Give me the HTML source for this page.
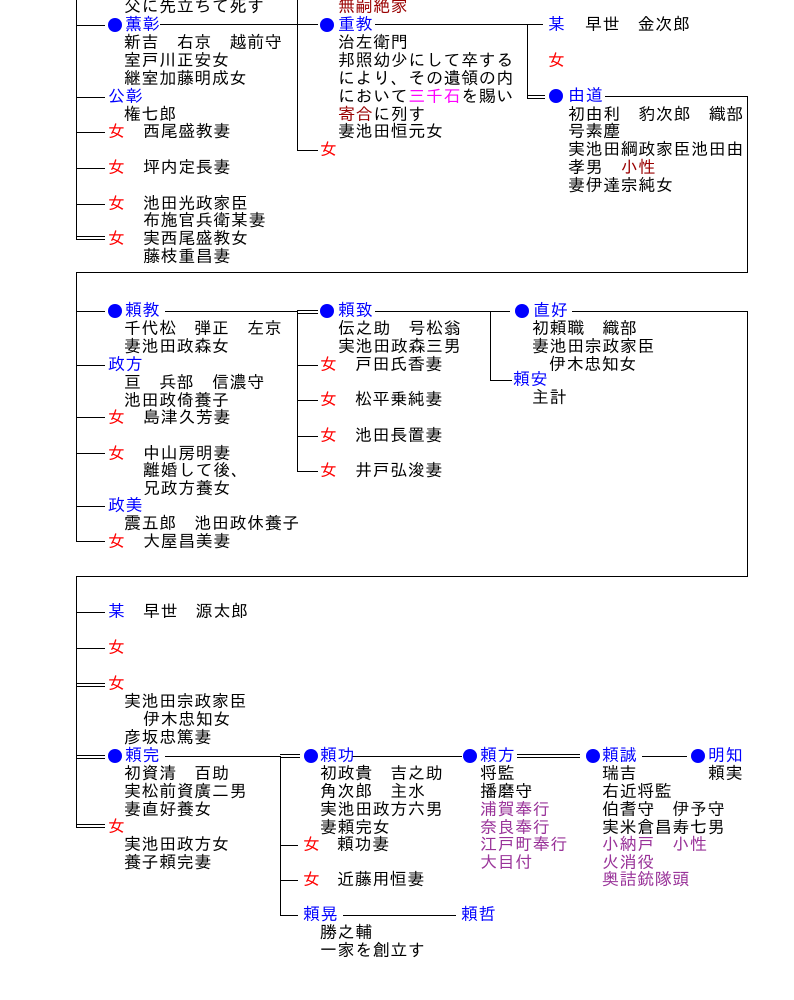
<!DOCTYPE html>
<html><head><meta charset="utf-8"><style>
body{margin:0;width:794px;height:1000px;background:#fff;position:relative;overflow:hidden;font-family:"IPAGothic","Noto Sans CJK JP",sans-serif;}
.t{position:absolute;font-size:17px;line-height:18px;letter-spacing:0.6px;white-space:nowrap;color:#000;}
.b{color:#0000ff}.r{color:#ff0000}.m{color:#990000}.p{color:#993399}.g{color:#ff00ff}
svg{position:absolute;left:0;top:0}
</style></head><body>
<svg width="794" height="1000" stroke="#000" stroke-width="1" fill="none" shape-rendering="crispEdges">
<path d="M76.5 0V239M76 25.5H105M76 97.5H105M76 132.5H105M76 168.5H105M76 204.5H105M76 236.5H105M76 239.5H105"/>
<path d="M160 24.5H318M375 24.5H543M297.5 0V150M297 150.5H318M527.5 24V98M527 95.5H545M527 98.5H545M605 96.5H747.5V272.5H76.5V541"/>
<path d="M76 311.5H105M76 365.5H105M76 417.5H105M76 453.5H105M76 506.5H105M76 541.5H105"/>
<path d="M165 311.5H297M297 310.5H318M297 313.5H318M297.5 310V471M297 365.5H318M297 400.5H318M297 436.5H318M297 471.5H318"/>
<path d="M375 311.5H510M490.5 311V380M490 380.5H512M572 311.5H747.5V576.5H76.5V827"/>
<path d="M76 612.5H105M76 648.5H105M76 683.5H105M76 686.5H105M76 755.5H105M76 758.5H105M76 824.5H105M76 827.5H105"/>
<path d="M165 756.5H280.5V915M280 754.5H300M280 757.5H300M280 845.5H298M280 880.5H298M280 915.5H298M343 915.5H456"/>
<path d="M352 756.5H462M517 754.5H580M517 757.5H580M642 756.5H687"/>
</svg>
<svg width="794" height="1000" fill="#0000ff">
<circle cx="115" cy="25" r="7"/><circle cx="327" cy="25" r="7"/><circle cx="556" cy="96" r="7"/>
<circle cx="115" cy="311" r="7"/><circle cx="327" cy="311" r="7"/><circle cx="522" cy="311" r="7"/>
<circle cx="115" cy="756" r="7"/><circle cx="311" cy="756" r="7"/><circle cx="470" cy="756" r="7"/><circle cx="593" cy="756" r="7"/><circle cx="698" cy="756" r="7"/>
</svg>

<div class="t" style="left:124px;top:-2px">父に先立ちて死す</div>
<div class="t b" style="left:125px;top:16px">薫彰</div>
<div class="t" style="left:124px;top:34px">新吉　右京　越前守</div>
<div class="t" style="left:124px;top:52px">室戸川正安女</div>
<div class="t" style="left:124px;top:70px">継室加藤明成女</div>
<div class="t b" style="left:108px;top:88px">公彰</div>
<div class="t" style="left:124px;top:106px">権七郎</div>
<div class="t r" style="left:108px;top:123px">女</div><div class="t" style="left:143px;top:123px">西尾盛教妻</div>
<div class="t r" style="left:108px;top:159px">女</div><div class="t" style="left:143px;top:159px">坪内定長妻</div>
<div class="t r" style="left:108px;top:195px">女</div><div class="t" style="left:143px;top:195px">池田光政家臣</div>
<div class="t" style="left:143px;top:212px">布施官兵衛某妻</div>
<div class="t r" style="left:108px;top:230px">女</div><div class="t" style="left:143px;top:230px">実西尾盛教女</div>
<div class="t" style="left:143px;top:248px">藤枝重昌妻</div>

<div class="t m" style="left:338px;top:-2px">無嗣絶家</div>
<div class="t b" style="left:338px;top:16px">重教</div>
<div class="t" style="left:338px;top:34px">治左衛門</div>
<div class="t" style="left:338px;top:52px">邦照幼少にして卒する</div>
<div class="t" style="left:338px;top:70px">により、その遺領の内</div>
<div class="t" style="left:338px;top:88px">において<span class="g">三千石</span>を賜い</div>
<div class="t" style="left:338px;top:106px"><span class="m">寄合</span>に列す</div>
<div class="t" style="left:338px;top:123px">妻池田恒元女</div>
<div class="t r" style="left:320px;top:141px">女</div>

<div class="t b" style="left:548px;top:16px">某</div><div class="t" style="left:585px;top:16px">早世　金次郎</div>
<div class="t r" style="left:548px;top:52px">女</div>
<div class="t b" style="left:568px;top:87px">由道</div>
<div class="t" style="left:568px;top:106px">初由利　豹次郎　織部</div>
<div class="t" style="left:568px;top:123px">号素塵</div>
<div class="t" style="left:568px;top:141px">実池田綱政家臣池田由</div>
<div class="t" style="left:568px;top:159px">孝男　<span class="m">小性</span></div>
<div class="t" style="left:568px;top:177px">妻伊達宗純女</div>

<div class="t b" style="left:125px;top:302px">頼教</div>
<div class="t" style="left:124px;top:320px">千代松　弾正　左京</div>
<div class="t" style="left:124px;top:338px">妻池田政森女</div>
<div class="t b" style="left:108px;top:356px">政方</div>
<div class="t" style="left:124px;top:374px">亘　兵部　信濃守</div>
<div class="t" style="left:124px;top:392px">池田政倚養子</div>
<div class="t r" style="left:108px;top:409px">女</div><div class="t" style="left:143px;top:409px">島津久芳妻</div>
<div class="t r" style="left:108px;top:445px">女</div><div class="t" style="left:143px;top:445px">中山房明妻</div>
<div class="t" style="left:143px;top:462px">離婚して後、</div>
<div class="t" style="left:143px;top:480px">兄政方養女</div>
<div class="t b" style="left:108px;top:497px">政美</div>
<div class="t" style="left:124px;top:515px">震五郎　池田政休養子</div>
<div class="t r" style="left:108px;top:533px">女</div><div class="t" style="left:143px;top:533px">大屋昌美妻</div>

<div class="t b" style="left:338px;top:302px">頼致</div>
<div class="t" style="left:338px;top:320px">伝之助　号松翁</div>
<div class="t" style="left:338px;top:338px">実池田政森三男</div>
<div class="t r" style="left:320px;top:356px">女</div><div class="t" style="left:355px;top:356px">戸田氏香妻</div>
<div class="t r" style="left:320px;top:391px">女</div><div class="t" style="left:355px;top:391px">松平乗純妻</div>
<div class="t r" style="left:320px;top:427px">女</div><div class="t" style="left:355px;top:427px">池田長置妻</div>
<div class="t r" style="left:320px;top:462px">女</div><div class="t" style="left:355px;top:462px">井戸弘浚妻</div>

<div class="t b" style="left:533px;top:302px">直好</div>
<div class="t" style="left:532px;top:320px">初頼職　織部</div>
<div class="t" style="left:532px;top:338px">妻池田宗政家臣</div>
<div class="t" style="left:549px;top:356px">伊木忠知女</div>
<div class="t b" style="left:513px;top:371px">頼安</div>
<div class="t" style="left:532px;top:389px">主計</div>

<div class="t b" style="left:108px;top:603px">某</div><div class="t" style="left:143px;top:603px">早世　源太郎</div>
<div class="t r" style="left:108px;top:639px">女</div>
<div class="t r" style="left:108px;top:675px">女</div>
<div class="t" style="left:124px;top:693px">実池田宗政家臣</div>
<div class="t" style="left:143px;top:711px">伊木忠知女</div>
<div class="t" style="left:124px;top:729px">彦坂忠篤妻</div>
<div class="t b" style="left:125px;top:747px">頼完</div>
<div class="t" style="left:124px;top:765px">初資清　百助</div>
<div class="t" style="left:124px;top:783px">実松前資廣二男</div>
<div class="t" style="left:124px;top:801px">妻直好養女</div>
<div class="t r" style="left:108px;top:818px">女</div>
<div class="t" style="left:124px;top:836px">実池田政方女</div>
<div class="t" style="left:124px;top:854px">養子頼完妻</div>

<div class="t b" style="left:320px;top:747px">頼功</div>
<div class="t" style="left:320px;top:765px">初政貴　吉之助</div>
<div class="t" style="left:320px;top:783px">角次郎　主水</div>
<div class="t" style="left:320px;top:801px">実池田政方六男</div>
<div class="t" style="left:320px;top:819px">妻頼完女</div>
<div class="t r" style="left:303px;top:836px">女</div><div class="t" style="left:337px;top:836px">頼功妻</div>
<div class="t r" style="left:303px;top:871px">女</div><div class="t" style="left:337px;top:871px">近藤用恒妻</div>
<div class="t b" style="left:303px;top:906px">頼晃</div>
<div class="t" style="left:320px;top:924px">勝之輔</div>
<div class="t" style="left:320px;top:942px">一家を創立す</div>
<div class="t b" style="left:461px;top:906px">頼哲</div>

<div class="t b" style="left:480px;top:747px">頼方</div>
<div class="t" style="left:480px;top:765px">将監</div>
<div class="t" style="left:480px;top:783px">播磨守</div>
<div class="t p" style="left:480px;top:801px">浦賀奉行</div>
<div class="t p" style="left:480px;top:819px">奈良奉行</div>
<div class="t p" style="left:480px;top:836px">江戸町奉行</div>
<div class="t p" style="left:480px;top:854px">大目付</div>

<div class="t b" style="left:602px;top:747px">頼誠</div>
<div class="t" style="left:602px;top:765px">瑞吉</div>
<div class="t" style="left:602px;top:783px">右近将監</div>
<div class="t" style="left:602px;top:801px">伯耆守　伊予守</div>
<div class="t" style="left:602px;top:819px">実米倉昌寿七男</div>
<div class="t p" style="left:602px;top:836px">小納戸　小性</div>
<div class="t p" style="left:602px;top:854px">火消役</div>
<div class="t p" style="left:602px;top:871px">奥詰銃隊頭</div>

<div class="t b" style="left:708px;top:747px">明知</div>
<div class="t" style="left:708px;top:765px">頼実</div>
</body></html>
